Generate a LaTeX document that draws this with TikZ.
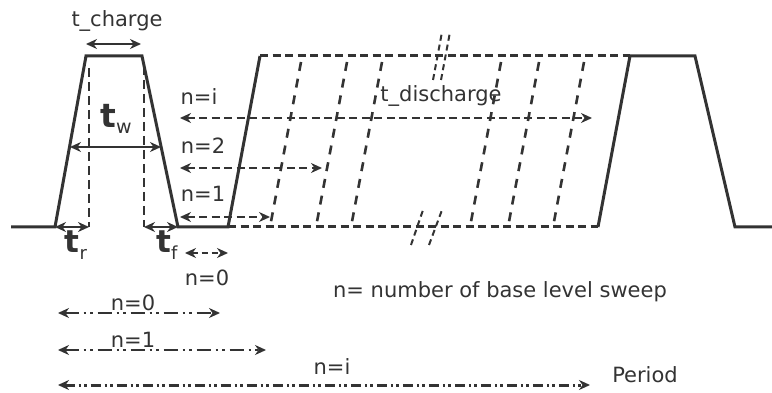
\documentclass[tikz,border=0pt]{standalone}
\usepackage{fontspec}
\setmainfont{DejaVu Sans}
\usetikzlibrary{arrows.meta}
\definecolor{ink}{HTML}{333333}
\begin{document}
\begin{tikzpicture}[x=1pt,y=-1pt,
  solidline/.style={draw=ink,line width=3pt,line join=miter},
  dashline/.style={draw=ink,line width=3pt,dash pattern=on 8pt off 4.5pt},
  vdash/.style={draw=ink,line width=2.6pt,dash pattern=on 9pt off 5pt},
  slantdash/.style={draw=ink,line width=2.6pt,dash pattern=on 9pt off 8pt},
  breakmark/.style={draw=ink,line width=2pt,dash pattern=on 6pt off 4pt},
  tip/.tip={Stealth[length=11pt,width=10pt]},
  dimarrow/.style={draw=ink,line width=2.6pt,tip-tip},
  ddarrow/.style={dimarrow,dash pattern=on 8pt off 4.5pt},
  ddotarrow/.style={dimarrow,dash pattern=on 14pt off 5pt on 2.5pt off 4pt on 2.5pt off 5pt},
  ddotdense/.style={dimarrow,line width=3pt,dash pattern=on 10pt off 4pt on 2.5pt off 3pt on 2.5pt off 4pt},
  lbl/.style={text=ink,font=\fontsize{21}{24}\selectfont,inner sep=0pt},
  tlbl/.style={text=ink,inner sep=0pt},
]
\useasboundingbox (0,0) rectangle (772,393);

% waveform points
\coordinate (b0) at (11,227);
\coordinate (p1a) at (55,227);
\coordinate (p1b) at (86,56);
\coordinate (p1c) at (142,56);
\coordinate (p1d) at (178,227);
\coordinate (p2a) at (228,227);
\coordinate (p2b) at (260,56);
\coordinate (p3a) at (598,227);
\coordinate (p3b) at (630,56);
\coordinate (p3c) at (695,56);
\coordinate (p3d) at (735,227);
\coordinate (bend) at (772,227);

\draw[solidline] (b0) -- (p1a) -- (p1b) -- (p1c) -- (p1d) -- (p2a) -- (p2b);
\draw[dashline] (p2b) -- (p3b);
\draw[dashline] (p2a) -- (p3a);
\draw[solidline] (p3a) -- (p3b) -- (p3c) -- (p3d) -- (bend);

% dashed verticals inside first pulse
\coordinate (v1t) at (89,68);
\coordinate (v1b) at (89,227);
\coordinate (v2t) at (144,66);
\coordinate (v2b) at (144,227);
\draw[vdash] (v1t) -- (v1b);
\draw[vdash] (v2t) -- (v2b);

% slanted dashed sweep lines
\foreach \xb [count=\i] in {270,316,351,470,508,553}{
  \coordinate (s\i b) at (\xb,227);
  \coordinate (s\i t) at (\xb+31,62);
  \draw[slantdash] (s\i t) -- (s\i b);
}

% break marks
\coordinate (k1a) at (433,80); \coordinate (k1b) at (442,32);
\coordinate (k2a) at (441,80); \coordinate (k2b) at (450,32);
\coordinate (k3a) at (411,245); \coordinate (k3b) at (423,210);
\coordinate (k4a) at (429,245); \coordinate (k4b) at (442,210);
\draw[breakmark] (k1a) -- (k1b);
\draw[breakmark] (k2a) -- (k2b);
\draw[breakmark] (k3a) -- (k3b);
\draw[breakmark] (k4a) -- (k4b);

% dimension arrows of the first pulse
\coordinate (tc1) at (86,44);
\coordinate (tc2) at (141,44);
\draw[dimarrow] (tc1) -- (tc2);
\coordinate (tw1) at (70,147);
\coordinate (tw2) at (161,147);
\draw[dimarrow] (tw1) -- (tw2);
\draw[dimarrow] (p1a) -- (v1b);
\draw[dimarrow] (v2b) -- (p1d);

\node[lbl] (tcharge) at (117,21) {t\_charge};
\node[tlbl] (tw) at (116,119) {\fontsize{33}{33}\selectfont\bfseries t\raisebox{-0.2em}{\fontsize{19}{19}\selectfont\mdseries w}};
\node[tlbl] (tr) at (76,245) {\fontsize{31}{31}\selectfont\bfseries t\raisebox{-0.25em}{\fontsize{18}{18}\selectfont\mdseries r}};
\node[tlbl] (tf) at (167,245) {\fontsize{31}{31}\selectfont\bfseries t\raisebox{-0.25em}{\fontsize{18}{18}\selectfont\mdseries f}};

% base level sweep arrows
\coordinate (ai1) at (180,118); \coordinate (ai2) at (592,118);
\coordinate (a21) at (180,168); \coordinate (a22) at (322,168);
\coordinate (a11) at (180,217); \coordinate (a12) at (270,217);
\draw[ddarrow] (ai1) -- (ai2);
\draw[ddarrow] (a21) -- (a22);
\draw[ddarrow] (a11) -- (a12);
\node[lbl] (ni) at (199,97) {n=i};
\node[lbl] (n2) at (203,146) {n=2};
\node[lbl] (n1) at (203,194) {n=1};
\node[lbl] (tdis) at (441,96) {t\_discharge};

\coordinate (a01) at (185,253); \coordinate (a02) at (228,253);
\draw[dimarrow,line width=2.2pt,dash pattern=on 6pt off 4pt] (a01) -- (a02);
\node[lbl] (n0) at (207,278) {n=0};

\node[lbl] (legend) at (500,292) {n= number of base level sweep};

% period arrows
\coordinate (q01) at (58,313); \coordinate (q02) at (220,313);
\coordinate (q11) at (58,350); \coordinate (q12) at (266,350);
\coordinate (qi1) at (58,385); \coordinate (qi2) at (590,385);
\draw[ddotarrow] (q01) -- (q02);
\draw[ddotarrow] (q11) -- (q12);
\draw[ddotdense] (qi1) -- (qi2);
\node[lbl,anchor=base] (m0) at (133,310) {n=0};
\node[lbl,anchor=base] (m1) at (133,347) {n=1};
\node[lbl] (mi) at (332,367) {n=i};
\node[lbl] (period) at (645,375) {Period};
\end{tikzpicture}
\end{document}
